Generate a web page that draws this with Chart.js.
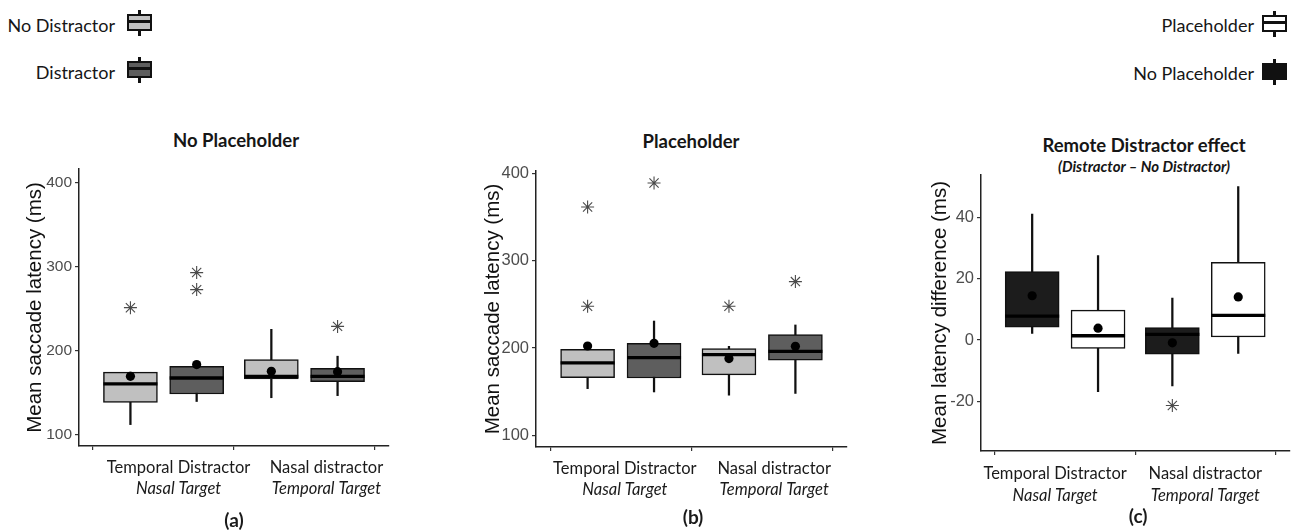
<!DOCTYPE html>
<html>
<head>
<meta charset="utf-8">
<script src="https://cdn.jsdelivr.net/npm/chart.js@4.4.0/dist/chart.umd.min.js"></script>
<style>
  body { margin: 0; width: 1297px; height: 530px; background: #fff; position: relative; overflow: hidden; font-family: Lato, sans-serif; color: #161616; }
  .abs { position: absolute; }
  .title { font-weight: bold; font-size: 18.5px; transform: translate(-50%, -50%); white-space: nowrap; }
  .sub { font-weight: bold; font-style: italic; font-size: 15px; transform: translate(-50%, -50%); white-space: nowrap; }
  .leg { font-size: 18px; text-align: right; transform: translateY(-50%); white-space: nowrap; }
  .icon { position: absolute; width: 25px; height: 26px; }
  .icon .wh { position: absolute; left: 11px; top: 0; width: 2.5px; height: 26px; background: #111; }
  .icon .bx { position: absolute; left: 0; top: 4px; width: 21px; height: 13px; border: 2px solid #111; }
  .icon .md { position: absolute; left: 0; top: 10px; width: 25px; height: 2.5px; background: #111; }
  canvas { position: absolute; }
</style>
</head>
<body>
<!-- legends -->
<div class="abs leg" style="left:0;width:115px;top:25px">No Distractor</div>
<div class="icon" style="left:127px;top:10px"><i class="wh"></i><i class="bx" style="background:#c0c0c0"></i><i class="md"></i></div>
<div class="abs leg" style="left:0;width:115px;top:72px">Distractor</div>
<div class="icon" style="left:127px;top:57px"><i class="wh"></i><i class="bx" style="background:#5e5e5e"></i><i class="md"></i></div>

<div class="abs leg" style="left:1000px;width:254px;top:25px">Placeholder</div>
<div class="icon" style="left:1262px;top:11px"><i class="wh"></i><i class="bx" style="background:#fff"></i><i class="md"></i></div>
<div class="abs leg" style="left:1000px;width:254px;top:73px">No Placeholder</div>
<div class="icon" style="left:1262px;top:59px"><i class="wh"></i><i class="bx" style="background:#111"></i><i class="md"></i></div>

<!-- titles -->
<div class="abs title" style="left:236px;top:140px">No Placeholder</div>
<div class="abs title" style="left:691px;top:141px">Placeholder</div>
<div class="abs title" style="left:1144px;top:145px">Remote Distractor effect</div>
<div class="abs sub" style="left:1144px;top:166px">(Distractor – No Distractor)</div>

<canvas id="panelA" width="376" height="380" style="left:23px;top:150px"></canvas>
<canvas id="panelB" width="376" height="380" style="left:481px;top:150px"></canvas>
<canvas id="panelC" width="369" height="380" style="left:928px;top:150px"></canvas>

<script>
// groups on the x axis
const groupLabels = ['Temporal Distractor', 'Nasal distractor'];
const groupSubLabels = ['Nasal Target', 'Temporal Target'];
const groupTicks = [1, 2];
const boxPositions = [0.765, 1.235, 1.765, 2.235];

const latencyTicks = [100, 200, 300, 400];
const diffTicks = [-20, 0, 20, 40];

// (a) No Placeholder: No Distractor / Distractor per group
const aLow = [111.5, 139, 143.5, 146];
const aQ1 = [138, 148, 166, 162.5];
const aMedian = [160, 167, 169, 169];
const aQ3 = [174, 181, 189, 178.5];
const aHigh = [174, 181, 225, 193];
const aMean = [169, 183, 175, 174.5];
const aOutliers = [[250.8], [292.6, 272.3], [], [228.5]];

// (b) Placeholder
const bLow = [153.5, 149.7, 146, 148];
const bQ1 = [166, 165.7, 169.2, 186];
const bMedian = [183, 189, 192.5, 196.3];
const bQ3 = [198.6, 205.5, 199.4, 215.4];
const bHigh = [198.6, 231, 202, 226.5];
const bMean = [202.4, 205.5, 188, 202];
const bOutliers = [[361.7, 247.9], [389.3], [247.9], [276.2]];

// (c) Remote distractor effect: No Placeholder / Placeholder per group
const cLow = [2.2, -16.9, -15, -4.4];
const cQ1 = [4.25, -2.7, -4.6, 1.0];
const cMedian = [7.85, 1.4, 1.85, 8.1];
const cQ3 = [22.4, 9.8, 4.1, 25.4];
const cHigh = [41.2, 27.6, 13.7, 50.2];
const cMean = [14.5, 3.9, -0.9, 14.1];
const cOutliers = [[], [], [-21.4], []];

function outlierPoints(outs) {
    const pts = [];
    outs.forEach((list, i) => list.forEach(v => pts.push({ x: boxPositions[i], y: v })));
    return pts;
}

// median bar drawn right after the boxes, under the mean dots
const medianPlugin = {
    id: 'medianLines',
    afterDatasetDraw(chart, args) {
        const ds = chart.data.datasets[args.index];
        if (!ds.medians) return;
        const ctx = chart.ctx;
        const y = chart.scales.y;
        ctx.save();
        ctx.strokeStyle = '#000';
        ctx.lineWidth = 3.3;
        args.meta.data.forEach((bar, i) => {
            const p = bar.getProps(['x', 'width'], true);
            const py = y.getPixelForValue(ds.medians[i]);
            ctx.beginPath();
            ctx.moveTo(p.x - p.width / 2, py);
            ctx.lineTo(p.x + p.width / 2, py);
            ctx.stroke();
        });
        ctx.restore();
    }
};

// two-line group labels (second line italic) and the panel caption
const groupLabelPlugin = {
    id: 'groupLabels',
    afterDraw(chart, args, opts) {
        const ctx = chart.ctx;
        const x = chart.scales.x;
        const base = x.top;
        ctx.save();
        ctx.fillStyle = '#1a1a1a';
        ctx.textAlign = 'center';
        ctx.textBaseline = 'middle';
        groupTicks.forEach((v, i) => {
            const px = x.getPixelForValue(v) + opts.dx[i];
            ctx.font = '16.5px Lato';
            ctx.fillText(groupLabels[i], px, base + opts.line1);
            ctx.font = 'italic 16.5px Lato';
            ctx.fillText(groupSubLabels[i], px, base + opts.line2);
        });
        ctx.font = 'bold 19px Lato';
        const cx = (chart.chartArea.left + chart.chartArea.right) / 2 + opts.capDx;
        ctx.fillText(opts.caption, cx, base + opts.capY);
        ctx.restore();
    }
};

function makePanel(id, p) {
    new Chart(document.getElementById(id), {
        type: 'bar',
        data: {
            datasets: [
                {
                    type: 'scatter',
                    data: outlierPoints(p.outliers),
                    pointStyle: 'star',
                    pointRadius: 6.5,
                    pointBorderColor: '#4a4a4a',
                    pointBorderWidth: 1.1,
                    pointBackgroundColor: 'transparent',
                    order: 0
                },
                {
                    type: 'scatter',
                    data: boxPositions.map((x, i) => ({ x: x, y: p.mean[i] })),
                    pointStyle: 'circle',
                    pointRadius: 4.6,
                    pointBackgroundColor: '#000',
                    pointBorderColor: '#000',
                    pointBorderWidth: 0,
                    order: 1
                },
                {
                    data: boxPositions.map((x, i) => ({ x: x, y: [p.q1[i], p.q3[i]] })),
                    medians: p.median,
                    backgroundColor: p.fills,
                    borderColor: '#111',
                    borderWidth: 1.5,
                    borderSkipped: false,
                    barThickness: 54,
                    grouped: false,
                    order: 2
                },
                {
                    data: boxPositions.map((x, i) => ({ x: x, y: [p.low[i], p.high[i]] })),
                    backgroundColor: '#111',
                    borderWidth: 0,
                    barThickness: 1.6,
                    grouped: false,
                    order: 3
                }
            ]
        },
        options: {
            responsive: false,
            animation: false,
            layout: { padding: { top: p.padTop, right: p.padRight, left: 0, bottom: 0 } },
            plugins: {
                legend: { display: false },
                tooltip: { enabled: false },
                groupLabels: { dx: p.labelDx, line1: p.line1, line2: p.line2, caption: p.caption, capY: p.capY, capDx: p.capDx }
            },
            scales: {
                x: {
                    type: 'linear',
                    min: 0.4,
                    max: 2.6,
                    offset: false,
                    afterBuildTicks: s => { s.ticks = groupTicks.map(v => ({ value: v })); },
                    afterFit: s => { s.height = p.xHeight; },
                    ticks: { callback: () => '' },
                    grid: { drawOnChartArea: false, drawTicks: true, tickLength: 4, color: '#333', lineWidth: 1.2 },
                    border: { display: true, color: '#222', width: 1.5 }
                },
                y: {
                    min: p.yMin,
                    max: p.yMax,
                    afterBuildTicks: s => { s.ticks = p.ticks.map(v => ({ value: v })); },
                    afterFit: s => { s.width = p.yWidth; },
                    ticks: { font: { family: '"Liberation Sans", Arial, sans-serif', size: p.tickSize }, color: '#4d4d4d', padding: 3 },
                    grid: { drawOnChartArea: false, drawTicks: true, tickLength: 4, color: '#333', lineWidth: 1.2 },
                    border: { display: true, color: '#222', width: 1.5 },
                    title: {
                        display: true,
                        text: p.yTitle,
                        font: { family: '"Liberation Sans", Arial, sans-serif', size: 20.5 },
                        color: '#111',
                        padding: 0
                    }
                }
            }
        },
        plugins: [medianPlugin, groupLabelPlugin]
    });
}

const greyFills = ['#c0c0c0', '#5e5e5e', '#c0c0c0', '#5e5e5e'];
const diffFills = ['#1c1c1c', '#ffffff', '#1c1c1c', '#ffffff'];

makePanel('panelA', {
    low: aLow, q1: aQ1, median: aMedian, q3: aQ3, high: aHigh, mean: aMean, outliers: aOutliers,
    fills: greyFills, yMin: 86, yMax: 416, ticks: latencyTicks, tickSize: 15.5,
    yTitle: 'Mean saccade latency (ms)', yWidth: 56, xHeight: 84, padTop: 19, padRight: 10,
    labelDx: [15, 22], line1: 21.7, line2: 43, caption: '(a)', capY: 75, capDx: 0
});

makePanel('panelB', {
    low: bLow, q1: bQ1, median: bMedian, q3: bQ3, high: bHigh, mean: bMean, outliers: bOutliers,
    fills: greyFills, yMin: 86.6, yMax: 403, ticks: latencyTicks, tickSize: 16.5,
    yTitle: 'Mean saccade latency (ms)', yWidth: 55, xHeight: 83, padTop: 21, padRight: 10,
    labelDx: [4, 12], line1: 21.6, line2: 42.6, caption: '(b)', capY: 71, capDx: 1.5
});

makePanel('panelC', {
    low: cLow, q1: cQ1, median: cMedian, q3: cQ3, high: cHigh, mean: cMean, outliers: cOutliers,
    fills: diffFills, yMin: -36.3, yMax: 54, ticks: diffTicks, tickSize: 16.5,
    yTitle: 'Mean latency difference (ms)', yWidth: 53, xHeight: 79, padTop: 25, padRight: 2,
    labelDx: [-10, 0], line1: 23, line2: 45, caption: '(c)', capY: 66, capDx: 3
});
</script>
</body>
</html>
